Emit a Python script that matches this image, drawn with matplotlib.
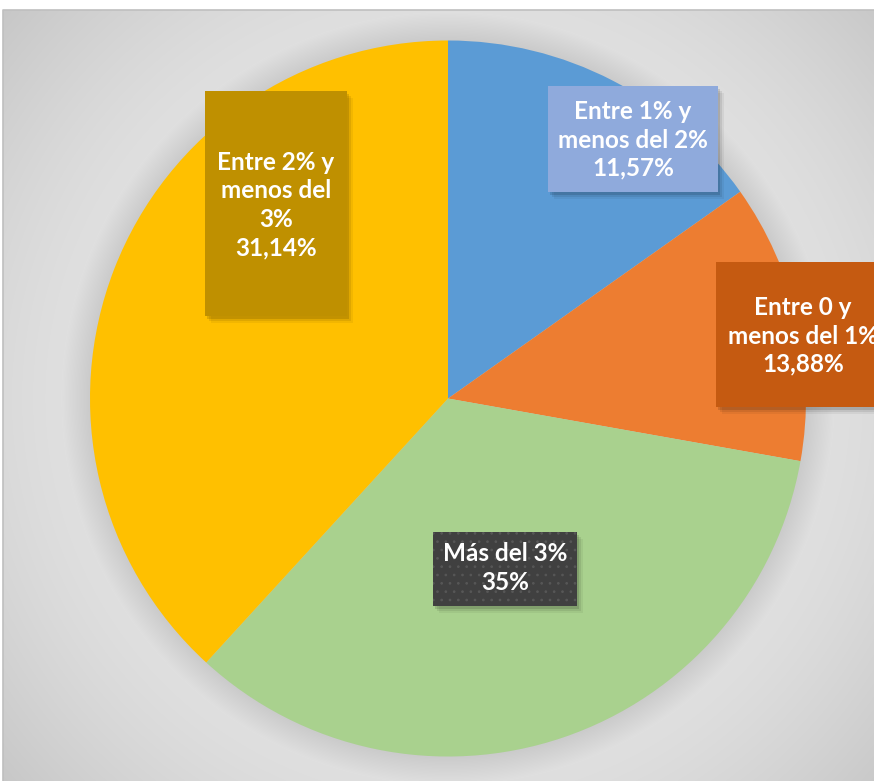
import numpy as np
import matplotlib
matplotlib.use("Agg")
import matplotlib.pyplot as plt
from matplotlib.patches import Rectangle

# data (wedge sizes, labels as printed on the chart)
categorias = ["Entre 1% y menos del 2%", "Entre 0 y menos del 1%", "Más del 3%", "Entre 2% y menos del 3%"]
valores = [15.2, 12.6, 34.0, 38.2]
etiquetas = ["Entre 1% y\nmenos del 2%\n11,57%",
             "Entre 0 y\nmenos del 1%\n13,88%",
             "Más del 3%\n35%",
             "Entre 2% y\nmenos del\n3%\n31,14%"]
colores = ["#5B9BD5", "#ED7D31", "#A9D18E", "#FFC000"]
colores_caja = ["#8FAADC", "#C55A11", "#404040", "#BF9000"]

plt.rcParams["hatch.linewidth"] = 0.7

W, H = 874, 781
fig = plt.figure(figsize=(W / 100, H / 100), dpi=100)
ax = fig.add_axes([0, 0, 1, 1])

# pie geometry (pixels, y up)
cx, cy, R = 448, 382.5, 358

# background: grey radial gradient with a soft shadow round the pie
xx, yy = np.meshgrid(np.arange(3, W) + 0.5, np.arange(0, H - 10) + 0.5)
d = np.hypot(xx - cx, yy - cy)
dmax = np.hypot(445, 400)
fondo = 0.875 - 0.10 * np.clip((d - R - 25) / (dmax - R - 25), 0, 1) ** 1.3
sombra = np.clip((R + 28 - d) / 28, 0, 1)
fondo = fondo - 0.08 * sombra
ax.imshow(np.dstack([fondo] * 3), extent=(3, W, 0, H - 10), origin="lower",
          interpolation="bilinear", zorder=0)
ax.plot([3, 3, W], [0, H - 10, H - 10], color="#BFBFBF", lw=1.2, zorder=1)

# pie
ax.pie(valores, colors=colores, startangle=90, counterclock=False,
       center=(cx, cy), radius=R, frame=True,
       wedgeprops=dict(linewidth=0, zorder=2))
ax.set_xlim(0, W)
ax.set_ylim(0, H)
ax.set_aspect("equal")
ax.axis("off")

# label boxes: (x0, y0, width, height) and text centre
cajas = [(548, 589, 170, 106), (716, 374, 174, 145), (433, 175, 144, 74), (205, 465, 142, 225)]
centros = [(633, 641), (803, 445), (505, 213), (276, 576)]

for (x0, y0, w, h), (tx, ty), txt, col in zip(cajas, centros, etiquetas, colores_caja):
    for k, a in [(7, 0.05), (5, 0.08), (3, 0.12)]:
        ax.add_patch(Rectangle((x0 + k - 1, y0 - k), w, h, facecolor="black",
                               edgecolor="none", alpha=a, zorder=3))
    ax.add_patch(Rectangle((x0, y0), w, h, facecolor=col, edgecolor="none", zorder=4))
    if col == "#404040":
        ax.add_patch(Rectangle((x0, y0), w, h, facecolor="none", edgecolor="#575757",
                               hatch="..", linewidth=0, zorder=4.5))
    ax.text(tx, ty, txt, ha="center", va="center", color="white", fontsize=17.5,
            fontweight="bold", family=["Lato", "DejaVu Sans"], linespacing=1.28, zorder=5)

fig.savefig("out.png", dpi=100)
